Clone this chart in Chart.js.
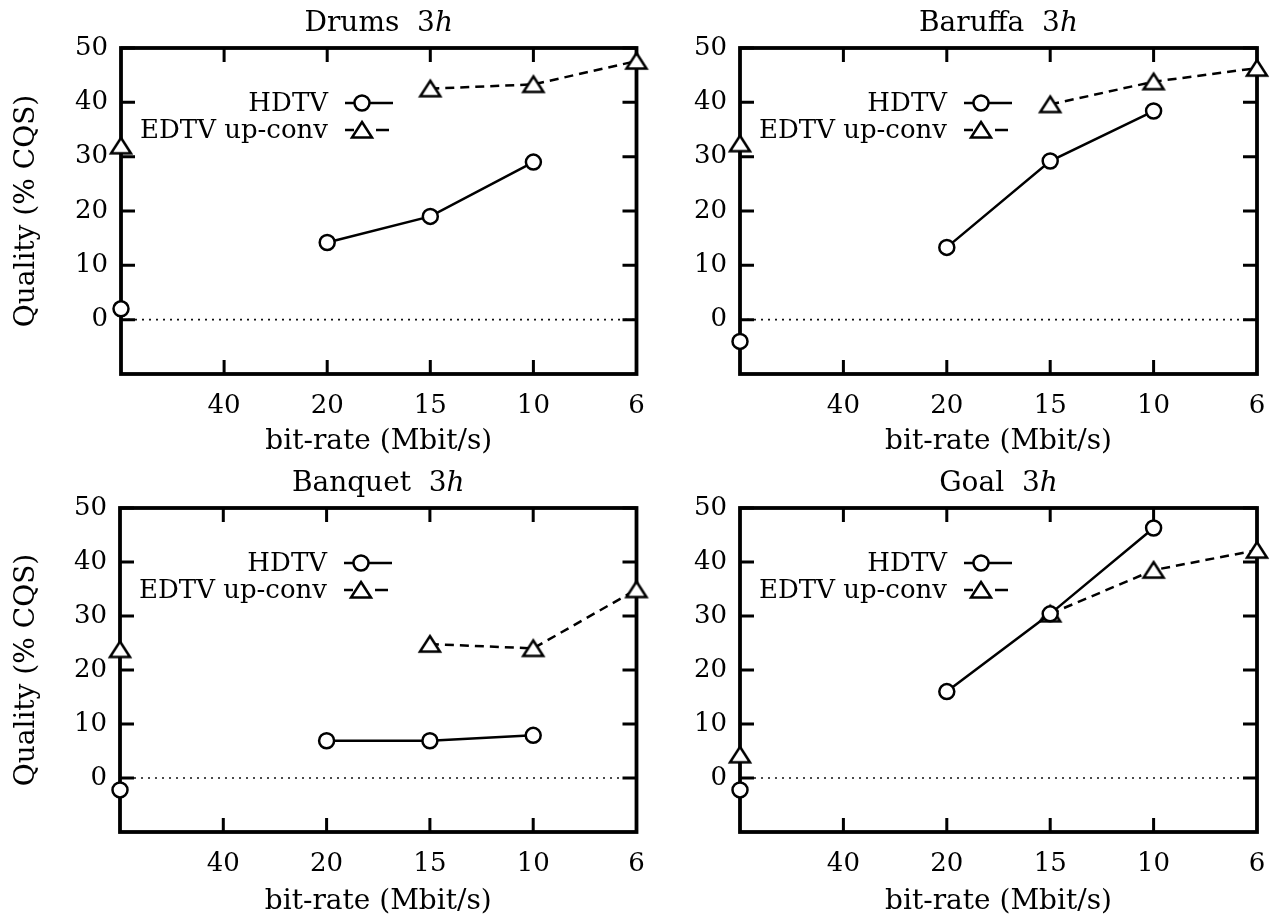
<!DOCTYPE html>
<html>
<head>
<meta charset="utf-8">
<script src="https://cdn.jsdelivr.net/npm/chart.js@4.4.1/dist/chart.umd.min.js"></script>
<style>
  body { margin: 0; background: #fff; width: 1275px; height: 920px; position: relative; overflow: hidden; }
  .panel { position: absolute; }
</style>
</head>
<body>
<div class="panel" style="left:0;top:0;width:650px;height:460px"><canvas id="drums"></canvas></div>
<div class="panel" style="left:640px;top:0;width:635px;height:460px"><canvas id="baruffa"></canvas></div>
<div class="panel" style="left:0;top:460px;width:650px;height:460px"><canvas id="banquet"></canvas></div>
<div class="panel" style="left:640px;top:460px;width:635px;height:460px"><canvas id="goal"></canvas></div>
<script>
// bit-rate positions; the first one (left edge) has no label
var categories = ['', '40', '20', '15', '10', '6'];
var seriesNames = ['HDTV', 'EDTV up-conv'];

var drumsHdtv = [2, null, 14.2, 19, 29, null];
var drumsEdtv = [32, null, null, 42.5, 43.3, 47.6];
var baruffaHdtv = [-4, null, 13.3, 29.2, 38.4, null];
var baruffaEdtv = [32.4, null, null, 39.6, 43.8, 46.3];
var banquetHdtv = [-2.2, null, 6.9, 6.9, 7.9, null];
var banquetEdtv = [23.8, null, null, 24.8, 24, 34.9];
var goalHdtv = [-2.2, null, 16, 30.4, 46.3, null];
var goalEdtv = [4.3, null, null, 30.4, 38.5, 42.2];

var FONT = '"DejaVu Serif", serif';
var INK = '#000';

// gnuplot-like open triangle, a bit wider than equilateral
var tri = document.createElement('canvas');
tri.width = 26;
tri.height = 22;
(function () {
  var c = tri.getContext('2d');
  c.fillStyle = '#fff';
  c.strokeStyle = INK;
  c.lineWidth = 2.5;
  c.beginPath();
  c.moveTo(13, 3);
  c.lineTo(23, 18.5);
  c.lineTo(3, 18.5);
  c.closePath();
  c.fill();
  c.stroke();
})();

function marker(ctx, style, x, y) {
  if (style == 'circle') {
    ctx.save();
    ctx.fillStyle = '#fff';
    ctx.strokeStyle = INK;
    ctx.lineWidth = 2.5;
    ctx.beginPath();
    ctx.arc(x, y, 7.5, 0, Math.PI * 2);
    ctx.fill();
    ctx.stroke();
    ctx.restore();
  } else {
    ctx.drawImage(style, x - style.width / 2, y - style.height / 2);
  }
}

// frame, inward ticks and the dotted zero line
var boxAxes = {
  id: 'boxAxes',
  beforeDatasetsDraw: function (chart) {
    var ctx = chart.ctx, a = chart.chartArea;
    var xs = chart.scales.x, ys = chart.scales.y;
    ctx.save();
    ctx.strokeStyle = '#111';
    ctx.lineWidth = 1.6;
    ctx.setLineDash([2, 5]);
    var y0 = ys.getPixelForValue(0);
    ctx.beginPath();
    ctx.moveTo(a.left, y0);
    ctx.lineTo(a.right, y0);
    ctx.stroke();
    ctx.setLineDash([]);

    ctx.strokeStyle = INK;
    ctx.lineWidth = 3;
    ctx.beginPath();
    ys.ticks.forEach(function (t) {
      if (t.value <= -10) return;
      var py = ys.getPixelForValue(t.value);
      ctx.moveTo(a.left, py); ctx.lineTo(a.left + 14, py);
      ctx.moveTo(a.right, py); ctx.lineTo(a.right - 14, py);
    });
    for (var i = 1; i < categories.length - 1; i++) {
      var px = xs.getPixelForValue(i);
      ctx.moveTo(px, a.bottom); ctx.lineTo(px, a.bottom - 14);
      ctx.moveTo(px, a.top); ctx.lineTo(px, a.top + 14);
    }
    ctx.stroke();
    ctx.lineWidth = 3.8;
    ctx.strokeRect(a.left, a.top, a.right - a.left, a.bottom - a.top);
    ctx.restore();
  }
};

// key inside the plot: right-aligned label, then line sample with marker
var key = {
  id: 'key',
  afterDatasetsDraw: function (chart) {
    var ctx = chart.ctx, a = chart.chartArea;
    ctx.save();
    ctx.font = '26px ' + FONT;
    ctx.textAlign = 'right';
    ctx.textBaseline = 'middle';
    ctx.fillStyle = INK;
    chart.data.datasets.forEach(function (ds, i) {
      var ty = a.top + 55 + i * 27;
      var tx = a.left + 207;
      ctx.fillText(ds.label, tx, ty + 1);
      var x0 = tx + 17;
      ctx.strokeStyle = INK;
      ctx.lineWidth = ds.borderWidth;
      ctx.beginPath();
      ctx.moveTo(x0, ty);
      if (ds.borderDash) {
        ctx.lineTo(x0 + 9, ty);
        ctx.moveTo(x0 + 31, ty);
        ctx.lineTo(x0 + 44, ty);
      } else {
        ctx.lineTo(x0 + 48, ty);
      }
      ctx.stroke();
      marker(ctx, ds.pointStyle, x0 + 17, ty);
    });
    ctx.restore();
  }
};

// "Name  3h" with an italic h
var panelTitle = {
  id: 'panelTitle',
  afterDraw: function (chart, args, opts) {
    var ctx = chart.ctx, a = chart.chartArea;
    ctx.save();
    ctx.fillStyle = INK;
    ctx.textBaseline = 'middle';
    ctx.textAlign = 'left';
    var head = opts.text + '  3';
    ctx.font = '28px ' + FONT;
    var w1 = ctx.measureText(head).width;
    ctx.font = 'italic 28px ' + FONT;
    var w2 = ctx.measureText('h').width;
    var x = (a.left + a.right) / 2 - (w1 + w2) / 2;
    ctx.font = '28px ' + FONT;
    ctx.fillText(head, x, 24);
    ctx.font = 'italic 28px ' + FONT;
    ctx.fillText('h', x + w1, 24);
    ctx.restore();
  }
};

function makeChart(id, name, hdtv, edtv, leftW, rightPad, bottomH, yTitle) {
  return new Chart(document.getElementById(id), {
    type: 'line',
    data: {
      labels: categories,
      datasets: [{
        label: seriesNames[0],
        data: hdtv,
        borderColor: INK,
        borderWidth: 2.5,
        pointStyle: 'circle',
        pointRadius: 7.5,
        pointBorderWidth: 2.5,
        pointBackgroundColor: '#fff',
        pointBorderColor: INK,
        spanGaps: false,
        clip: false
      }, {
        label: seriesNames[1],
        data: edtv,
        borderColor: INK,
        borderWidth: 2.5,
        borderDash: [9, 6],
        pointStyle: tri,
        pointRadius: 11,
        spanGaps: false,
        clip: false
      }]
    },
    options: {
      responsive: true,
      maintainAspectRatio: false,
      animation: false,
      devicePixelRatio: 1,
      layout: { padding: { top: 48, right: rightPad, left: 0, bottom: 0 } },
      plugins: {
        legend: { display: false },
        tooltip: { enabled: false },
        panelTitle: { text: name }
      },
      scales: {
        x: {
          type: 'category',
          offset: false,
          grid: { display: false },
          border: { display: false },
          ticks: { color: INK, font: { family: FONT, size: 26 }, padding: 9, autoSkip: false, maxRotation: 0 },
          title: { display: true, text: 'bit-rate (Mbit/s)', color: INK, font: { family: FONT, size: 28 }, padding: { top: 0, bottom: 1 } },
          afterFit: function (s) {
            s.height = bottomH;
            s.paddingLeft = 0;
            s.paddingRight = 0;
          }
        },
        y: {
          min: -10,
          max: 50,
          grid: { display: false },
          border: { display: false },
          ticks: {
            stepSize: 10,
            color: INK,
            font: { family: FONT, size: 26 },
            padding: 5,
            callback: function (v) { return v < 0 ? '' : v; }
          },
          title: { display: yTitle, text: 'Quality (% CQS)', color: INK, font: { family: FONT, size: 28 }, padding: { top: 10, bottom: 0 } },
          afterFit: function (s) {
            s.width = leftW;
            s.paddingTop = 0;
            s.paddingBottom = 0;
          }
        }
      }
    },
    plugins: [boxAxes, key, panelTitle]
  });
}

makeChart('drums', 'Drums', drumsHdtv, drumsEdtv, 121, 12, 86, true);
makeChart('baruffa', 'Baruffa', baruffaHdtv, baruffaEdtv, 100, 18, 86, false);
makeChart('banquet', 'Banquet', banquetHdtv, banquetEdtv, 120, 11, 88, true);
makeChart('goal', 'Goal', goalHdtv, goalEdtv, 100, 18, 88, false);
</script>
</body>
</html>
